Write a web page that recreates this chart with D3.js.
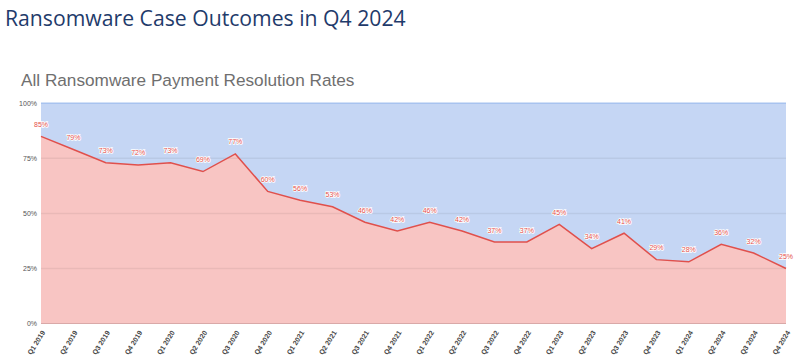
<!DOCTYPE html>
<html><head><meta charset="utf-8">
<script src="https://cdn.jsdelivr.net/npm/d3@7"></script>
<style>body{margin:0;background:#fff;}svg{display:block;}</style>
</head><body>
<svg id="c" width="794" height="359"></svg>
<script>
const quarters = ["Q1 2019","Q2 2019","Q3 2019","Q4 2019","Q1 2020","Q2 2020","Q3 2020","Q4 2020",
  "Q1 2021","Q2 2021","Q3 2021","Q4 2021","Q1 2022","Q2 2022","Q3 2022","Q4 2022",
  "Q1 2023","Q2 2023","Q3 2023","Q4 2023","Q1 2024","Q2 2024","Q3 2024","Q4 2024"];
const paidRates = [85,79,73,72,73,69,77,60,56,53,46,42,46,42,37,37,45,34,41,29,28,36,32,25];
const yTicks = [0,25,50,75,100];

const svg = d3.select("#c");
const L = 41, R = 786, T = 103.3, B = 323.5;
const x = d3.scalePoint().domain(quarters).range([L, R]);
const y = d3.scaleLinear().domain([0,100]).range([B, T]);

svg.append("text").attr("x",5).attr("y",26).text("Ransomware Case Outcomes in Q4 2024")
  .attr("font-family","Open Sans").attr("font-size",21.2).attr("fill","#1f3b6b");
svg.append("text").attr("x",21).attr("y",86).text("All Ransomware Payment Resolution Rates")
  .attr("font-family","Liberation Sans").attr("font-size",17.2).attr("fill","#6f6f6f");

// background (not paid) area
svg.append("rect").attr("x",L).attr("y",y(100)).attr("width",R-L).attr("height",y(0)-y(100)).attr("fill","#c5d6f4");
svg.append("line").attr("x1",L).attr("x2",R).attr("y1",y(100)).attr("y2",y(100)).attr("stroke","#a8c3ef").attr("stroke-width",1.5);

const area = d3.area().x((d,i)=>x(quarters[i])).y0(y(0)).y1(d=>y(d));
svg.append("path").datum(paidRates).attr("d",area).attr("fill","#f8c5c3");

// gridlines
svg.selectAll(".g").data(yTicks.filter(v=>v>0&&v<100)).join("line")
  .attr("x1",L).attr("x2",R).attr("y1",d=>y(d)).attr("y2",d=>y(d))
  .attr("stroke","#000").attr("stroke-opacity",0.06).attr("stroke-width",1.5);

const line = d3.line().x((d,i)=>x(quarters[i])).y(d=>y(d));
svg.append("path").datum(paidRates).attr("d",line).attr("fill","none").attr("stroke","#e0504c").attr("stroke-width",1.5);

svg.append("line").attr("x1",L).attr("x2",R).attr("y1",y(0)).attr("y2",y(0)).attr("stroke","#d9a9a8").attr("stroke-width",1);

// y axis labels
const yAx = d3.axisLeft(y).tickValues(yTicks).tickFormat(d=>d+"%").tickSize(0).tickPadding(4);
const ya = svg.append("g").attr("transform",`translate(${L},0)`).call(yAx);
ya.select(".domain").remove();
ya.selectAll("text").attr("font-family","Liberation Sans").attr("font-size",7).attr("fill","#555");

// x axis labels
const xAx = d3.axisBottom(x).tickSize(0).tickPadding(0);
const xa = svg.append("g").attr("transform",`translate(0,${B})`).call(xAx);
xa.select(".domain").remove();
xa.selectAll("text").attr("font-family","Liberation Sans").attr("font-size",7).attr("font-weight","bold").attr("fill","#444")
  .attr("text-anchor","end").attr("dy",null).attr("y",0)
  .attr("transform","translate(4,9) rotate(-58)");

// data labels
svg.selectAll(".dl").data(paidRates).join("text")
  .attr("x",(d,i)=>x(quarters[i])).attr("y",d=>y(d)-9.5)
  .attr("text-anchor","middle").attr("font-family","Liberation Sans").attr("font-size",7)
  .attr("fill","#e5504c").attr("stroke","#fff").attr("stroke-width",1.6).attr("paint-order","stroke")
  .text(d=>d+"%");
</script>
</body></html>
